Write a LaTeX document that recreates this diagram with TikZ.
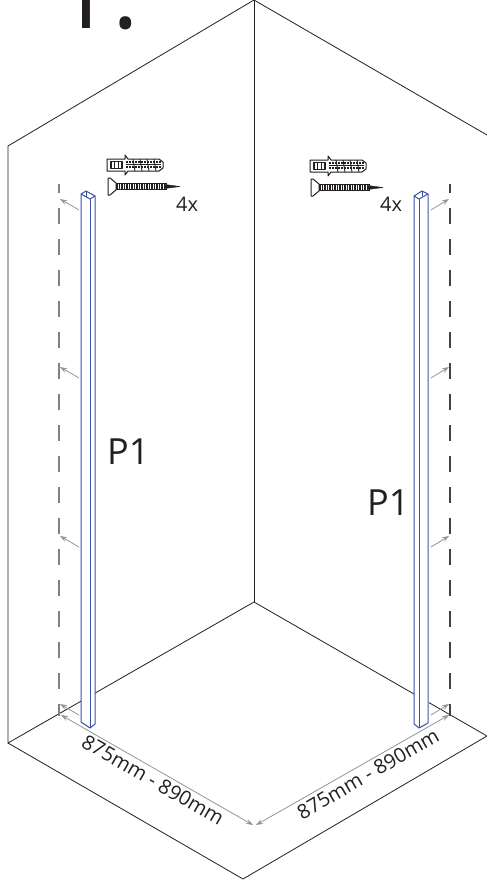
\documentclass[tikz,border=0pt]{standalone}
\usepackage{fontspec}
\setmainfont{Open Sans}
\usetikzlibrary{arrows.meta}
\definecolor{inkline}{HTML}{231F20}
\definecolor{profblue}{HTML}{3A50A6}
\definecolor{proflight}{HTML}{8595CC}
\definecolor{dimgray}{HTML}{939598}
\tikzset{
  x=1pt,y=-1pt,
  wall/.style={draw=inkline,line width=0.8pt},
  prof/.style={draw=profblue,line width=1pt,line join=round},
  dashline/.style={line width=1.2pt,dash pattern=on 16pt off 15pt},
  hint/.style={draw=dimgray,line width=0.8pt,-{Stealth[length=7pt,width=5pt]}},
  dimtext/.style={font=\fontsize{20}{22}\selectfont,text=inkline,inner sep=0pt},
  lab/.style={font=\fontsize{36}{38}\selectfont,text=inkline,inner sep=0pt,anchor=base west},
  cnt/.style={font=\fontsize{20}{22}\selectfont,text=inkline,inner sep=0pt,anchor=base west},
  fix/.style={draw=inkline,line width=1pt,line join=round},
  pics/fixing/.style={code={
    % wall plug
    \draw[fix,fill=white] (0,-6) -- (18,-6) -- (18,-10) -- (21,-6) -- (52,-6) -- (56,-3) -- (56,3) -- (52,6) -- (21,6) -- (18,10) -- (18,6) -- (0,6) -- cycle;
    \draw[fix,line width=1.2pt] (4,-3.5) rectangle (15,3.5);
    \draw[fix,line width=0.9pt] (7.5,-3.5) -- (7.5,3.5) (11,-3.5) -- (11,3.5);
    \draw[fix,line width=2pt,dash pattern=on 1.6pt off 1.4pt] (19,-3) -- (54,-3) (19,2) -- (54,2);
    \draw[fix,line width=0.9pt] (19,-0.5) -- (54,-0.5);
    \foreach \q in {26,33,40,47} \draw[fix,line width=0.9pt] (\q,-6) -- (\q+2,6);
    % screw
    \draw[fix,fill=white] (1,13) -- (1,30) -- (3,30) -- (9,25) -- (9,18) -- (3,13) -- cycle;
    \draw[fix,fill=inkline,line width=0.4pt] (58,19.5) -- (73,21.5) -- (58,23.5) -- cycle;
    \draw[fix,line width=1pt] (9,18.8) -- (60,18.8) (9,24.2) -- (60,24.2);
    \draw[fix,line width=5pt,dash pattern=on 1.5pt off 1pt] (9,21.5) -- (60,21.5);
  }}
}
\begin{document}
\begin{tikzpicture}
\useasboundingbox (0,0) rectangle (487,881);
\begin{scope}
\clip (0,0) rectangle (487,881);
\node[inner sep=0pt,anchor=base west,font=\fontsize{100}{100}\selectfont,text=inkline] (title) at (55,28) {1.};
\end{scope}

% room
\coordinate (apex) at (254,0);
\coordinate (tl) at (8,146);
\coordinate (bl) at (8,743);
\coordinate (back) at (254,602);
\coordinate (tr) at (487,135);
\coordinate (br) at (487,736);
\coordinate (bot) at (243,879);
\draw[wall] (tr) -- (apex) -- (tl) -- (bl) -- (back) -- (br) -- (bot) -- (bl);
\draw[wall] (apex) -- (back);

% dashed target lines
\coordinate (dlT) at (59,184); \coordinate (dlB) at (59,716);
\coordinate (drT) at (450,184); \coordinate (drB) at (450,716);
\draw[dashline,draw=gray,dash phase=7pt] (dlT) -- (dlB);
\draw[dashline,draw=inkline!85,dash phase=7pt] (drT) -- (drB);

% small arrows
\foreach \n/\y in {a/210,b/378,c/547,d/715}{
  \coordinate (la\n) at (79,\y); \coordinate (lb\n) at (60,\y-11);
  \coordinate (ra\n) at (431,\y); \coordinate (rb\n) at (449,\y-11);
  \draw[hint] (la\n) -- (lb\n);
  \draw[hint] (ra\n) -- (rb\n);
}

% dimensions
\coordinate (dimL) at (61,715);
\coordinate (dimML) at (253,825);
\coordinate (dimMR) at (256,825);
\coordinate (dimR) at (449,715);
\draw[dimgray,line width=0.8pt,{Stealth[length=7pt,width=5pt]}-{Stealth[length=7pt,width=5pt]}] (dimL) -- (dimML);
\draw[dimgray,line width=0.8pt,{Stealth[length=7pt,width=5pt]}-{Stealth[length=7pt,width=5pt]}] (dimMR) -- (dimR);
\node[dimtext,rotate=-30] (dimtL) at (153,780) {875mm - 890mm};
\node[dimtext,rotate=30] (dimtR) at (368,774) {875mm - 890mm};

% left profile
\draw[prof,fill=white] (81,194) -- (86,191) -- (95,196) -- (95,724) -- (90,728) -- (81,722) -- cycle;
\draw[prof] (81,194) -- (90,199) -- (95,196);
\draw[prof] (90,199) -- (90,728);
\draw[prof,line width=0.6pt] (86,191) -- (86,197);
% right profile
\draw[prof,fill=white] (414,196) -- (422,191) -- (428,194) -- (428,723) -- (419,728) -- (414,724) -- cycle;
\draw[prof] (414,196) -- (419,199) -- (428,194);
\draw[prof] (419,199) -- (419,728);
\draw[prof,line width=0.6pt] (422,191) -- (422,196);
\draw[proflight,line width=1pt] (428,194) -- (428,723);

% fixings
\pic (fixL) at (107,165) {fixing};
\pic (fixR) at (310,166) {fixing};

% labels
\node[cnt] (n4L) at (176,211) {4x};
\node[cnt] (n4R) at (380,211) {4x};
\node[lab] (p1L) at (107,464) {P1};
\node[lab] (p1R) at (367,515) {P1};
\end{tikzpicture}
\end{document}
